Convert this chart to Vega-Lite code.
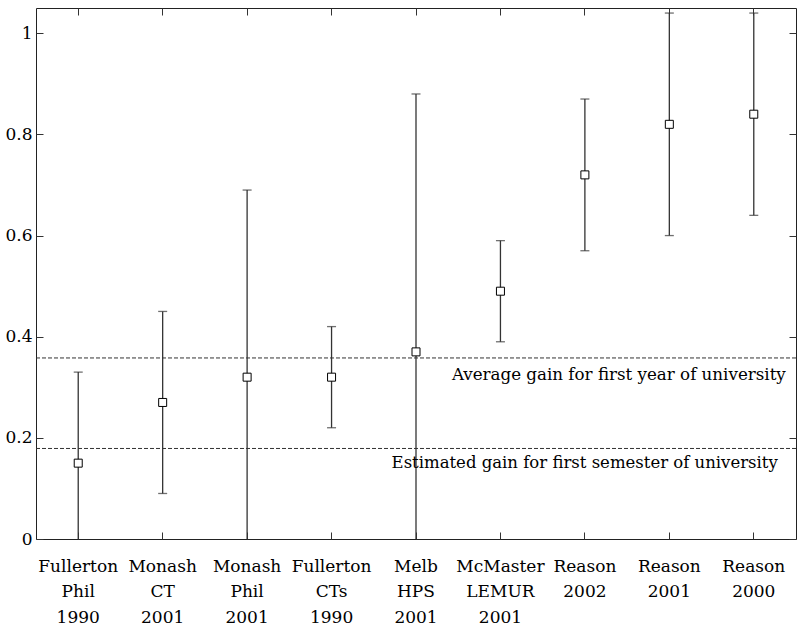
{
  "$schema": "https://vega.github.io/schema/vega-lite/v6.json",
  "width": 760,
  "height": 531,
  "autosize": {"type": "none"},
  "padding": {"left": 36, "top": 8, "right": 1, "bottom": 90},
  "background": "white",
  "config": {
    "view": {"stroke": "#222", "strokeWidth": 1},
    "font": "DejaVu Serif",
    "axis": {
      "domain": false,
      "grid": false,
      "tickColor": "#333",
      "tickSize": -7,
      "tickWidth": 1,
      "labelFont": "DejaVu Serif",
      "labelFontSize": 17,
      "labelColor": "black",
      "title": null
    }
  },
  "data": {
    "values": [
      {"cat": "Fullerton Phil 1990", "mid": 0.15, "lo": -0.03, "hi": 0.33},
      {"cat": "Monash CT 2001", "mid": 0.27, "lo": 0.09, "hi": 0.45},
      {"cat": "Monash Phil 2001", "mid": 0.32, "lo": -0.05, "hi": 0.69},
      {"cat": "Fullerton CTs 1990", "mid": 0.32, "lo": 0.22, "hi": 0.42},
      {"cat": "Melb HPS 2001", "mid": 0.37, "lo": -0.14, "hi": 0.88},
      {"cat": "McMaster LEMUR 2001", "mid": 0.49, "lo": 0.39, "hi": 0.59},
      {"cat": "Reason 2002", "mid": 0.72, "lo": 0.57, "hi": 0.87},
      {"cat": "Reason 2001", "mid": 0.82, "lo": 0.6, "hi": 1.04},
      {"cat": "Reason 2000", "mid": 0.84, "lo": 0.64, "hi": 1.04}
    ]
  },
  "layer": [
    {
      "layer": [
        {
          "mark": {"type": "rule", "clip": true, "color": "#333", "strokeWidth": 1.3},
          "encoding": {
            "x": {
              "field": "cat",
              "type": "nominal",
              "sort": null,
              "scale": {
                "domain": ["Fullerton Phil 1990", "Monash CT 2001", "Monash Phil 2001", "Fullerton CTs 1990", "Melb HPS 2001", "McMaster LEMUR 2001", "Reason 2002", "Reason 2001", "Reason 2000"],
                "paddingInner": 0,
                "paddingOuter": 0
              },
              "axis": {
                "orient": "bottom",
                "labelAngle": 0,
                "labelExpr": "split(datum.label, ' ')",
                "labelBaseline": "top",
                "labelPadding": 26,
                "labelLineHeight": 25.5
              }
            },
            "y": {
              "field": "lo",
              "type": "quantitative",
              "scale": {"domain": [0, 1.05], "nice": false, "zero": false},
              "axis": {
                "orient": "left",
                "values": [0, 0.2, 0.4, 0.6, 0.8, 1],
                "format": "~g",
                "labelPadding": 11
              }
            },
            "y2": {"field": "hi"}
          }
        },
        {
          "mark": {"type": "tick", "clip": true, "color": "#333", "size": 9, "thickness": 1.3},
          "encoding": {
            "x": {"field": "cat", "type": "nominal", "sort": null},
            "y": {"field": "hi", "type": "quantitative"}
          }
        },
        {
          "mark": {"type": "tick", "clip": true, "color": "#333", "size": 9, "thickness": 1.3},
          "encoding": {
            "x": {"field": "cat", "type": "nominal", "sort": null},
            "y": {"field": "lo", "type": "quantitative"}
          }
        },
        {
          "mark": {"type": "point", "shape": "square", "size": 64, "filled": false, "fill": "white", "stroke": "black", "strokeWidth": 1, "opacity": 1},
          "encoding": {
            "x": {"field": "cat", "type": "nominal", "sort": null},
            "y": {"field": "mid", "type": "quantitative"}
          }
        },
        {
          "data": {"values": [{"v": 0.358}, {"v": 0.179}]},
          "mark": {"type": "rule", "color": "#333", "strokeWidth": 1, "strokeDash": [4, 2]},
          "encoding": {"y": {"field": "v", "type": "quantitative"}}
        },
        {
          "data": {"values": [{"v": 0.358, "t": "Average gain for first year of university"}]},
          "mark": {"type": "text", "align": "right", "baseline": "middle", "dx": 32, "dy": 17, "fontSize": 16.7, "font": "DejaVu Serif", "color": "black"},
          "encoding": {
            "x": {"datum": "Reason 2000", "type": "nominal"},
            "y": {"field": "v", "type": "quantitative"},
            "text": {"field": "t"}
          }
        },
        {
          "data": {"values": [{"v": 0.179, "t": "Estimated gain for first semester of university"}]},
          "mark": {"type": "text", "align": "right", "baseline": "middle", "dx": 24, "dy": 15, "fontSize": 16.5, "font": "DejaVu Serif", "color": "black"},
          "encoding": {
            "x": {"datum": "Reason 2000", "type": "nominal"},
            "y": {"field": "v", "type": "quantitative"},
            "text": {"field": "t"}
          }
        }
      ]
    },
    {
      "mark": {"type": "point", "opacity": 0},
      "encoding": {
        "x": {
          "field": "cat",
          "type": "nominal",
          "sort": null,
          "axis": {"orient": "top", "labels": false}
        },
        "y": {
          "field": "mid",
          "type": "quantitative",
          "axis": {"orient": "right", "labels": false, "values": [0, 0.2, 0.4, 0.6, 0.8, 1]}
        }
      }
    }
  ],
  "resolve": {"axis": {"x": "independent", "y": "independent"}}
}
